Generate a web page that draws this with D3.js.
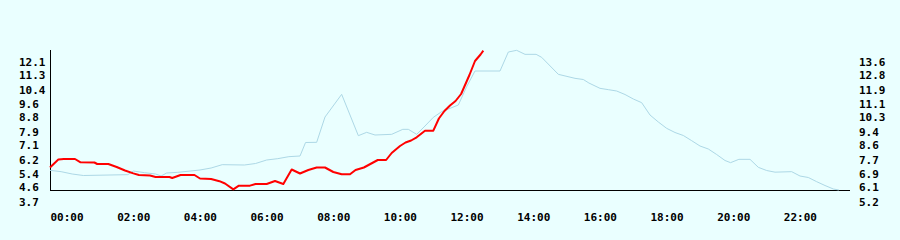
<!DOCTYPE html>
<html>
<head>
<meta charset="utf-8">
<script src="https://cdn.jsdelivr.net/npm/d3@7"></script>
<style>
  html, body { margin: 0; padding: 0; background: #eaffff; }
  .chart__label { font-family: "DejaVu Sans Mono", monospace; font-weight: bold; font-size: 11px; fill: #000; }
</style>
</head>
<body>
<div id="chart"></div>
<script>
// Red series (left scale), ends at 13:00
const redTimes = ["00:00","00:15","00:25","00:45","00:55","01:20","01:25","01:45","02:00","02:15","02:30","02:40",
  "03:00","03:10","03:35","03:40","03:55","04:20","04:30","04:50","05:05","05:15","05:30","05:40","06:00","06:10",
  "06:30","06:45","07:00","07:15","07:30","07:45","08:00","08:15","08:30","08:45","09:00","09:10","09:25","09:40",
  "09:50","10:05","10:15","10:30","10:40","10:50","11:00","11:15","11:30","11:40","11:50","12:00","12:10","12:20",
  "12:35","12:45","12:55","13:00"];
const redValues = [5.77,6.25,6.28,6.28,6.08,6.07,5.98,5.98,5.80,5.59,5.42,5.32,
  5.29,5.20,5.20,5.14,5.32,5.32,5.11,5.08,4.95,4.81,4.46,4.68,4.68,4.78,
  4.78,4.96,4.78,5.65,5.41,5.62,5.77,5.77,5.50,5.36,5.36,5.62,5.77,6.04,
  6.22,6.22,6.64,7.06,7.27,7.39,7.58,7.98,7.98,8.71,9.16,9.49,9.76,10.18,
  11.32,12.16,12.55,12.78];

// Light blue series (right scale)
const blueTimes = ["00:00","00:20","00:40","01:00","02:20","02:30","02:50","03:10","03:20","03:30","03:50","04:30",
  "04:50","05:10","05:50","06:10","06:30","06:50","07:10","07:30","07:40","08:00","08:15","08:45","09:15","09:30",
  "09:45","10:15","10:35","10:45","11:00","11:15","11:30","11:45","12:00","12:15","12:30","12:45","13:30","13:45",
  "14:00","14:15","14:35","14:45","15:15","15:45","16:00","16:10","16:30","16:45","17:00","17:15","17:30","17:45",
  "18:00","18:15","18:30","18:45","19:00","19:15","19:30","19:45","20:00","20:15","20:25","20:40","21:00","21:15",
  "21:30","21:45","22:15","22:30","22:45","23:00","23:15","23:30","23:40"];
const blueValues = [7.10,7.02,6.88,6.79,6.84,7.06,6.96,6.88,6.76,6.94,6.98,7.12,
  7.24,7.44,7.42,7.51,7.72,7.80,7.92,7.96,8.77,8.78,10.30,11.66,9.18,9.38,
  9.22,9.26,9.56,9.56,9.26,9.76,10.28,10.62,10.82,11.02,12.12,13.06,13.06,14.20,
  14.30,14.06,14.06,13.88,12.86,12.62,12.55,12.34,12.02,11.94,11.86,11.65,11.38,11.16,
  10.42,10.00,9.62,9.37,9.19,8.88,8.56,8.38,8.05,7.69,7.56,7.76,7.76,7.28,
  7.09,6.99,7.02,6.76,6.67,6.42,6.19,5.98,5.92];

// Tick labels
const leftTicks = [3.7,4.6,5.4,6.2,7.1,7.9,8.8,9.6,10.4,11.3,12.1];
const rightTicks = [5.2,6.1,6.9,7.7,8.6,9.4,10.3,11.1,11.9,12.8,13.6];

const cfg = {
  width: 900, height: 240,
  plot: {left: 50, right: 850, top: 50, bottom: 190},
  labelLeftX: 19, labelRightX: 859, labelTimeY: 217,
  background: '#eaffff',
  redColor: '#ff0000',
  blueColor: '#add8e6',
};

const parse = d3.timeParse('%H:%M');
const day0 = parse('00:00');
const day1 = d3.timeDay.offset(day0, 1);

const svg = d3.select('#chart').append('svg')
  .attr('width', cfg.width)
  .attr('height', cfg.height)
  .style('display', 'block');

svg.append('rect')
  .attr('width', cfg.width).attr('height', cfg.height)
  .attr('fill', cfg.background);

// Scales
const x = d3.scaleTime().domain([day0, day1]).range([cfg.plot.left, cfg.plot.right]);
const yLeft = d3.scaleLinear().domain([3.7, 12.1]).range([202, 62]);
const yRight = d3.scaleLinear().domain([5.2, 13.6]).range([202, 62]);

// Axis lines
svg.append('path')
  .attr('d', `M${cfg.plot.left + 0.5},${cfg.plot.top}V${cfg.plot.bottom + 0.5}H${cfg.plot.right}`)
  .attr('fill', 'none')
  .attr('stroke', '#000')
  .attr('stroke-width', 1)
  .attr('shape-rendering', 'crispEdges');

// Left labels
const leftAxis = svg.append('g')
  .attr('transform', `translate(${cfg.labelLeftX},0)`)
  .call(d3.axisRight(yLeft).tickValues(leftTicks).tickSize(0).tickPadding(0).tickFormat(d3.format('.1f')));

// Right labels
const rightAxis = svg.append('g')
  .attr('transform', `translate(${cfg.labelRightX},0)`)
  .call(d3.axisRight(yRight).tickValues(rightTicks).tickSize(0).tickPadding(0).tickFormat(d3.format('.1f')));

// Time labels, left-aligned at each tick
const timeAxis = svg.append('g')
  .attr('transform', `translate(0,${cfg.labelTimeY})`)
  .call(d3.axisBottom(x).ticks(d3.timeHour.every(2)).tickSize(0).tickPadding(0).tickFormat(d3.timeFormat('%H:%M')));
timeAxis.selectAll('.tick').filter(d => +d >= +day1).remove();
timeAxis.selectAll('text').attr('text-anchor', 'start').attr('y', 0).attr('dy', '0.35em');

[leftAxis, rightAxis, timeAxis].forEach(g => {
  g.select('.domain').remove();
  g.attr('font-family', null).attr('font-size', null);
  g.selectAll('text').attr('class', 'chart__label').attr('fill', null);
});

// Lines
const blueLine = d3.line()
  .x((d, i) => x(parse(blueTimes[i])))
  .y(d => yRight(d));
svg.append('path')
  .datum(blueValues)
  .attr('d', blueLine)
  .attr('fill', 'none')
  .attr('stroke', cfg.blueColor)
  .attr('stroke-width', 1);

const redLine = d3.line()
  .x((d, i) => x(parse(redTimes[i])))
  .y(d => yLeft(d));
svg.append('path')
  .datum(redValues)
  .attr('d', redLine)
  .attr('fill', 'none')
  .attr('stroke', cfg.redColor)
  .attr('stroke-width', 2)
  .attr('stroke-linejoin', 'round');
</script>
</body>
</html>
